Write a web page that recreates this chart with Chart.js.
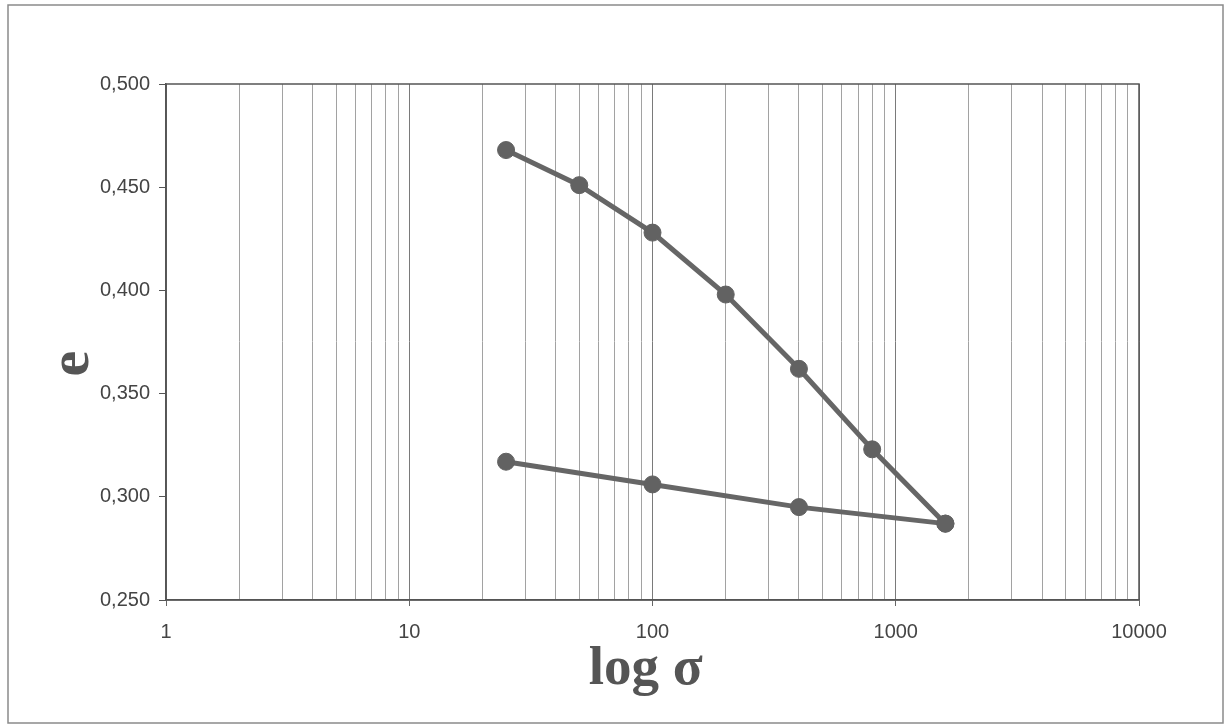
<!DOCTYPE html>
<html>
<head>
<meta charset="utf-8">
<script src="https://cdn.jsdelivr.net/npm/chart.js@4/dist/chart.umd.min.js"></script>
<style>
  html, body { margin: 0; padding: 0; background: #ffffff; }
  #wrap { width: 1227px; height: 727px; position: relative; }
</style>
</head>
<body>
<div id="wrap"><canvas id="c" width="1227" height="727"></canvas></div>
<script>
// ---- data ----
const loadingSigma = [25, 50, 100, 200, 400, 800, 1600];
const loadingE     = [0.468, 0.451, 0.428, 0.398, 0.362, 0.323, 0.287];
const unloadSigma  = [1600, 400, 100, 25];
const unloadE      = [0.287, 0.295, 0.306, 0.317];
const xTickLabels  = ['1', '10', '100', '1000', '10000'];
const yTickLabels  = ['0,250', '0,300', '0,350', '0,400', '0,450', '0,500'];
const xTitle = 'log σ ';
const yTitle = 'e   ';

function pts(xs, ys) { return xs.map((x, i) => ({ x: x, y: ys[i] })); }
function isDecade(v) { const l = Math.log10(v); return Math.abs(l - Math.round(l)) < 1e-6; }
function isWholeMultiple(v) {
  const m = v / Math.pow(10, Math.floor(Math.log10(v) + 1e-9));
  return Math.abs(m - Math.round(m)) < 1e-6;
}

const frame = {
  id: 'frame',
  beforeDraw(chart) {
    const ctx = chart.ctx;
    ctx.save();
    ctx.fillStyle = '#ffffff';
    ctx.fillRect(0, 0, chart.width, chart.height);
    ctx.strokeStyle = '#8a8a8a';
    ctx.lineWidth = 1.5;
    ctx.strokeRect(8, 5, chart.width - 12, chart.height - 9);
    ctx.restore();
  },
  afterDatasetsDraw(chart) {
    const a = chart.chartArea, ctx = chart.ctx;
    ctx.save();
    ctx.strokeStyle = '#555555';
    ctx.lineWidth = 1.5;
    ctx.strokeRect(a.left, a.top, a.right - a.left, a.bottom - a.top);
    ctx.restore();
  }
};

const lineColor = '#666666';
const dsStyle = {
  showLine: true,
  borderColor: lineColor,
  backgroundColor: lineColor,
  borderWidth: 5,
  pointRadius: 8.5,
  pointBackgroundColor: '#626262',
  pointBorderColor: '#626262',
  pointBorderWidth: 1,
  tension: 0,
  clip: false
};

new Chart(document.getElementById('c'), {
  type: 'line',
  data: {
    datasets: [
      Object.assign({ label: 'loading', data: pts(loadingSigma, loadingE) }, dsStyle),
      Object.assign({ label: 'unloading', data: pts(unloadSigma, unloadE) }, dsStyle)
    ]
  },
  options: {
    responsive: false,
    animation: false,
    devicePixelRatio: 1,
    layout: { padding: { left: 0, right: 88, top: 84, bottom: 0 } },
    plugins: { legend: { display: false }, tooltip: { enabled: false } },
    scales: {
      x: {
        type: 'logarithmic',
        min: 1, max: 10000,
        afterFit(scale) { scale.height = 127; },
        border: { display: true, color: '#555555', width: 1.5 },
        grid: {
          color: (c) => {
            if (!c.tick) return 'rgba(0,0,0,0)';
            if (isDecade(c.tick.value)) return '#7a7a7a';
            return isWholeMultiple(c.tick.value) ? '#a2a2a2' : 'rgba(0,0,0,0)';
          },
          lineWidth: 1,
          tickLength: 6,
          tickColor: (c) => (c.tick && isDecade(c.tick.value)) ? '#666666' : 'rgba(0,0,0,0)'
        },
        ticks: {
          autoSkip: false,
          maxRotation: 0,
          padding: 14,
          color: '#444444',
          font: { family: 'Liberation Sans, Arial, sans-serif', size: 20 },
          callback: (v) => isDecade(v) ? xTickLabels[Math.round(Math.log10(v))] : ''
        },
        title: {
          display: true,
          text: xTitle,
          color: '#555555',
          font: { family: 'Liberation Serif, Times New Roman, serif', size: 55, weight: 'bold', lineHeight: 1.2 },
          padding: { top: 0, bottom: 24 }
        }
      },
      y: {
        type: 'linear',
        min: 0.25, max: 0.5,
        afterFit(scale) { scale.width = 166; },
        border: { display: true, color: '#555555', width: 1.5 },
        grid: { drawOnChartArea: false, tickLength: 7, tickColor: '#555555' },
        ticks: {
          stepSize: 0.05,
          padding: 9,
          color: '#444444',
          font: { family: 'Liberation Sans, Arial, sans-serif', size: 20 },
          callback: (v, i) => yTickLabels[Math.round((v - 0.25) / 0.05)]
        },
        title: {
          display: true,
          text: yTitle,
          color: '#555555',
          font: { family: 'Liberation Serif, Times New Roman, serif', size: 58, weight: 'bold', lineHeight: 1.2 },
          padding: { top: 38, bottom: 0 }
        }
      }
    }
  },
  plugins: [frame]
});
</script>
</body>
</html>
